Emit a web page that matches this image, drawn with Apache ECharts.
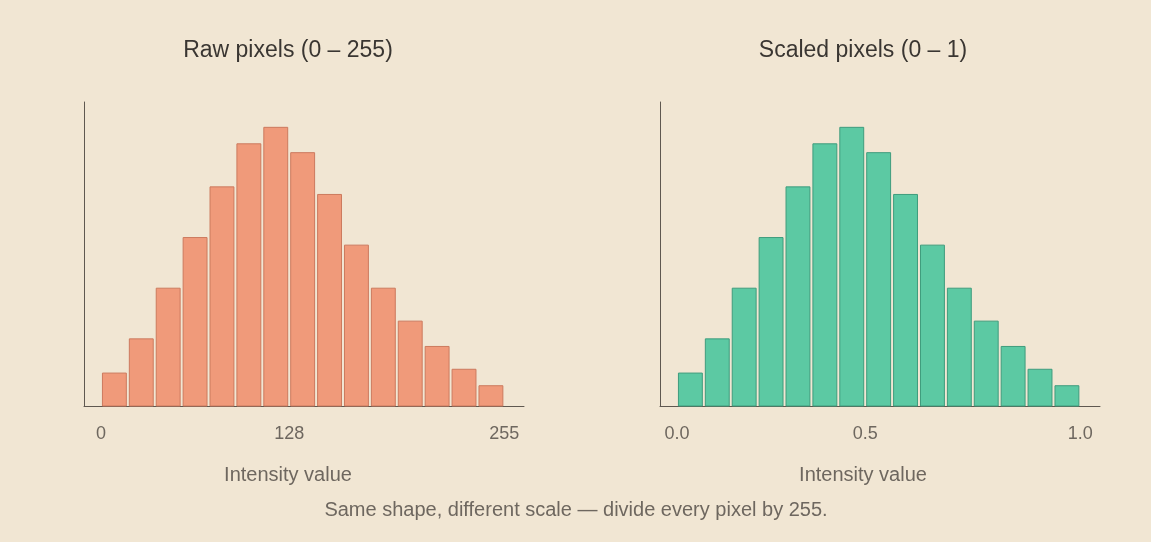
<!DOCTYPE html>
<html>
<head>
<meta charset="utf-8">
<script src="https://cdn.jsdelivr.net/npm/echarts@6/dist/echarts.min.js"></script>
<style>
  html, body { margin: 0; padding: 0; background: #ffffff; }
  #chart { width: 1151px; height: 542px; background: #F1E6D3; }
</style>
</head>
<body>
<div id="chart"></div>
<script>
// ---- data ----
const binStarts = [0,1,2,3,4,5,6,7,8,9,10,11,12,13,14]; // 15 equal-width bins (bin index)
const counts = [130, 265, 465, 665, 865, 1035, 1100, 1000, 835, 635, 465, 335, 235, 145, 80];
const tickPositions = [0, 7, 15];          // bin-edge positions of labelled ticks
const rawTickLabels = ['0', '128', '255'];
const scaledTickLabels = ['0.0', '0.5', '1.0'];
const panelTitles = ['Raw pixels (0 \u2013 255)', 'Scaled pixels (0 \u2013 1)'];
const axisTitle = 'Intensity value';
const caption = 'Same shape, different scale \u2014 divide every pixel by 255.';

// ---- styling ----
const FONT = '"Liberation Sans", Arial, Helvetica, sans-serif';
const AXIS_COLOR = '#5f5850';
const LABEL_COLOR = '#6e675f';
const fills = ['#F09A7A', '#5CC9A3'];
const strokes = ['#CC7A5E', '#3F9C7D'];

const barData = binStarts.map((s, i) => [s, s + 1, counts[i]]);

function renderBar(fill, stroke) {
  return function (params, api) {
    const p0 = api.coord([api.value(0), 0]);
    const p1 = api.coord([api.value(1), api.value(2)]);
    const gap = 1.5;
    return {
      type: 'rect',
      shape: {
        x: p0[0] + gap,
        y: p1[1],
        width: p1[0] - p0[0] - 2 * gap,
        height: p0[1] - p1[1]
      },
      style: { fill: fill, stroke: stroke, lineWidth: 1 }
    };
  };
}

function xAxisFor(gridIndex, labels) {
  return {
    type: 'value',
    gridIndex: gridIndex,
    min: -0.63,
    max: 15.73,
    splitLine: { show: false },
    axisTick: { show: false },
    axisLine: { show: true, onZero: false, lineStyle: { color: AXIS_COLOR, width: 1 } },
    axisLabel: {
      customValues: tickPositions,
      formatter: function (v) {
        const idx = tickPositions.indexOf(Math.round(v));
        return idx >= 0 ? labels[idx] : '';
      },
      margin: 19,
      fontSize: 18,
      fontFamily: FONT,
      color: LABEL_COLOR
    }
  };
}

function yAxisFor(gridIndex) {
  return {
    type: 'value',
    gridIndex: gridIndex,
    min: 0,
    max: 1200,
    splitLine: { show: false },
    axisTick: { show: false },
    axisLabel: { show: false },
    axisLine: { show: true, onZero: false, lineStyle: { color: AXIS_COLOR, width: 1 } }
  };
}

function textEl(x, y, text, size, color) {
  return {
    type: 'text',
    x: x, y: y,
    style: {
      text: text,
      fontSize: size,
      fontFamily: FONT,
      fill: color,
      align: 'center',
      verticalAlign: 'middle'
    }
  };
}

const chart = echarts.init(document.getElementById('chart'), null, { renderer: 'canvas' });
chart.setOption({
  backgroundColor: '#F1E6D3',
  animation: false,
  grid: [
    { left: 84, top: 102, width: 440, height: 304 },
    { left: 660, top: 102, width: 440, height: 304 }
  ],
  xAxis: [xAxisFor(0, rawTickLabels), xAxisFor(1, scaledTickLabels)],
  yAxis: [yAxisFor(0), yAxisFor(1)],
  series: [
    { type: 'custom', xAxisIndex: 0, yAxisIndex: 0, data: barData,
      renderItem: renderBar(fills[0], strokes[0]), encode: { x: [0, 1], y: 2 } },
    { type: 'custom', xAxisIndex: 1, yAxisIndex: 1, data: barData,
      renderItem: renderBar(fills[1], strokes[1]), encode: { x: [0, 1], y: 2 } }
  ],
  graphic: [
    textEl(288, 51, panelTitles[0], 23, '#3a3632'),
    textEl(863, 51, panelTitles[1], 23, '#3a3632'),
    textEl(288, 475, axisTitle, 20, LABEL_COLOR),
    textEl(863, 475, axisTitle, 20, LABEL_COLOR),
    textEl(576, 510, caption, 20, LABEL_COLOR)
  ]
});
</script>
</body>
</html>
